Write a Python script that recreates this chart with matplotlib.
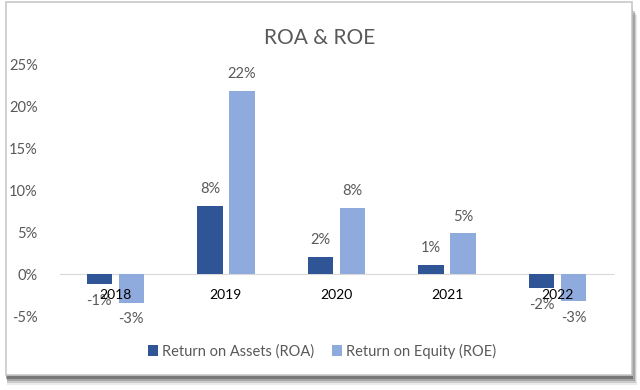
import numpy as np
import matplotlib.pyplot as plt
from matplotlib.patches import Rectangle

plt.rcParams['font.family'] = ['Lato', 'DejaVu Sans']

years = ['2018', '2019', '2020', '2021', '2022']
roa = [-1.2, 8.2, 2.1, 1.1, -1.7]
roe = [-3.4, 21.9, 7.9, 4.9, -3.2]
roa_labels = ['-1%', '8%', '2%', '1%', '-2%']
roe_labels = ['-3%', '22%', '8%', '5%', '-3%']

TEXT = '#595959'
C_ROA = '#2F5597'
C_ROE = '#8FAADC'

fig = plt.figure(figsize=(6.4, 3.9), dpi=100)
W, H = 640, 390

# frame with shadow (behind the axes)
for i, a in enumerate([0.10, 0.18, 0.28, 0.45]):
    d = 4 - i
    fig.patches.append(Rectangle(((6 + d * 0.3) / W, (H - 377 - d * 2) / H),
                                 (626 + d) / W, 370 / H, transform=fig.transFigure,
                                 facecolor='#404040', alpha=a, edgecolor='none', zorder=-3))
fig.patches.append(Rectangle((6 / W, (H - 375) / H), 626 / W, 373 / H,
                             transform=fig.transFigure, facecolor='white',
                             edgecolor='#C8C8C8', linewidth=1.2, zorder=-2))

ax = fig.add_axes([60 / W, 1 - 316 / H, 553 / W, 251 / H])
ax.set_facecolor('none')

x = np.arange(len(years))
w = 0.23
gap = 0.06
b1 = ax.bar(x - (w + gap) / 2, roa, w, color=C_ROA, label='Return on Assets (ROA)', zorder=3)
b2 = ax.bar(x + (w + gap) / 2, roe, w, color=C_ROE, label='Return on Equity (ROE)', zorder=3)

for bars, labs in ((b1, roa_labels), (b2, roe_labels)):
    for r, lab in zip(bars, labs):
        v = r.get_height()
        top = r.get_y() + v
        off = 12 if v >= 0 else -12
        ax.annotate(lab, (r.get_x() + r.get_width() / 2, top), xytext=(0, off),
                    textcoords='offset points', ha='center', va='center',
                    fontsize=10.5, color=TEXT, zorder=5)

ax.set_xlim(-0.5, len(years) - 0.5)
ax.set_ylim(-5, 25)
ax.set_yticks(range(-5, 26, 5))
ax.set_yticklabels([f'{t}%' for t in range(-5, 26, 5)], fontsize=10.5, color=TEXT)
ax.set_xticks(x)
ax.set_xticklabels(years, fontsize=10.5, color=TEXT)
for s in ['top', 'right', 'left']:
    ax.spines[s].set_visible(False)
ax.spines['bottom'].set_position(('data', 0))
ax.spines['bottom'].set_color('#D9D9D9')
ax.spines['bottom'].set_zorder(2)
ax.tick_params(axis='both', length=0)
ax.tick_params(axis='x', pad=11)
ax.tick_params(axis='y', pad=16)
ax.xaxis.set_zorder(6)

fig.text(320 / W, 1 - 38 / H, 'ROA & ROE', ha='center', va='center',
         fontsize=15, color=TEXT)

fig.legend(handles=[b1, b2], loc='center', bbox_to_anchor=(322 / W, 1 - 351 / H),
           ncol=2, frameon=False, fontsize=10.5, labelcolor=TEXT,
           handlelength=0.7, handleheight=0.7, handletextpad=0.3, columnspacing=1.2)

fig.savefig('out.png', dpi=100, facecolor='white')
